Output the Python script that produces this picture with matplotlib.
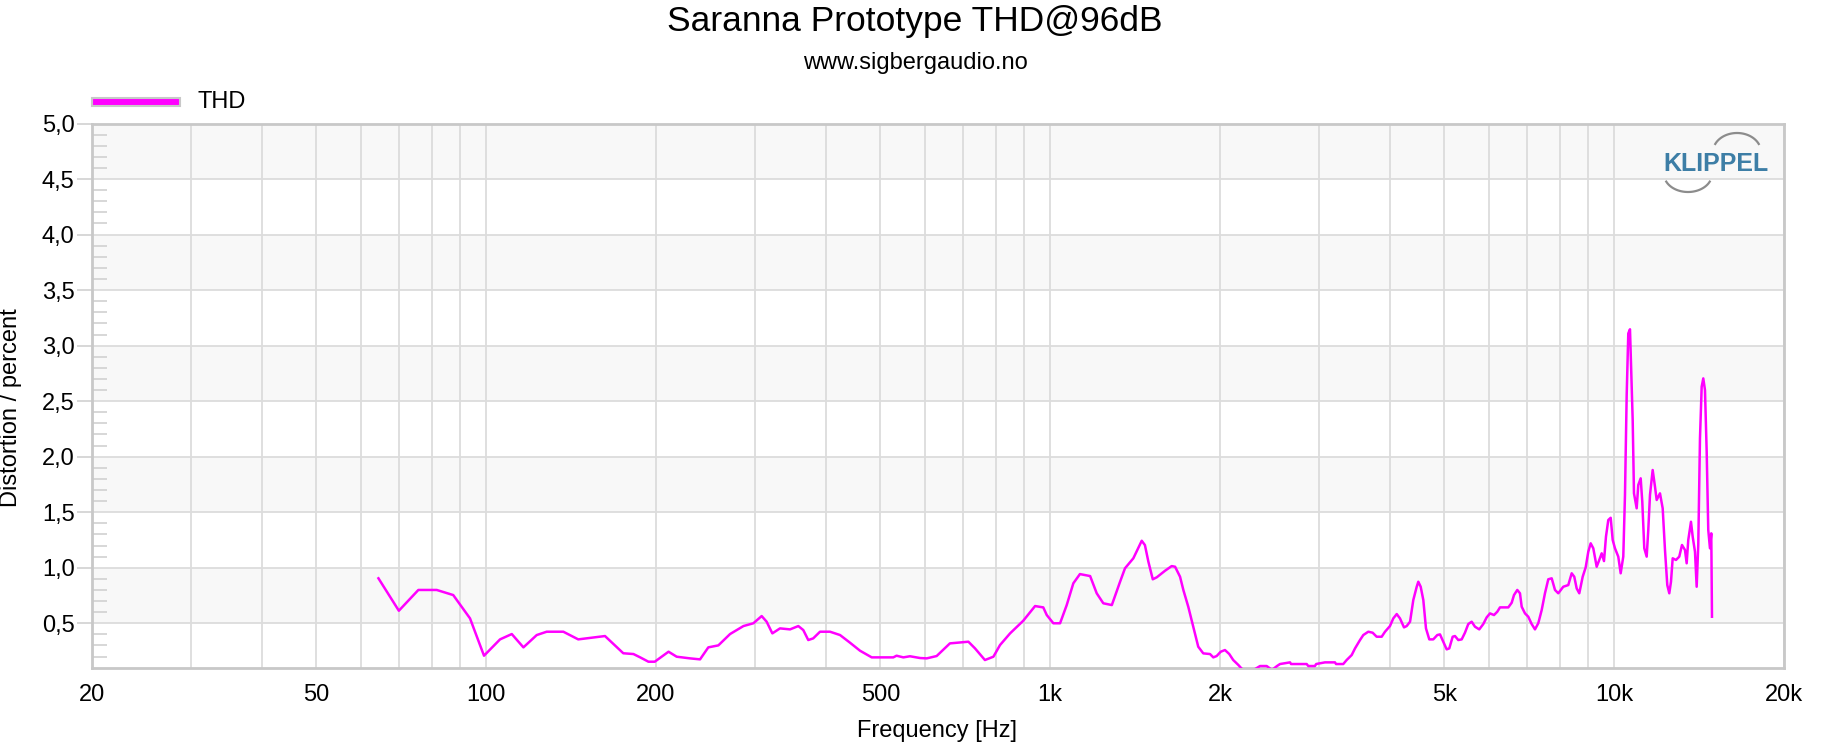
import numpy as np
import matplotlib
matplotlib.use("Agg")
import matplotlib.pyplot as plt
from matplotlib.ticker import FixedLocator, FuncFormatter, NullFormatter
from matplotlib.patches import Rectangle

plt.rcParams['font.family'] = ['Liberation Sans', 'DejaVu Sans']

title = "Saranna Prototype THD@96dB"
subtitle = "www.sigbergaudio.no"
series_name = "THD"
x_label = "Frequency [Hz]"
y_label = "Distortion / percent"

x_tick_values = [20, 50, 100, 200, 500, 1000, 2000, 5000, 10000, 20000]
x_tick_labels = ["20", "50", "100", "200", "500", "1k", "2k", "5k", "10k", "20k"]
y_tick_values = [0.5, 1.0, 1.5, 2.0, 2.5, 3.0, 3.5, 4.0, 4.5, 5.0]

freq = [64.4, 70, 75.8, 81.7, 87.4, 93.6, 99.1, 105.8, 111, 116.4, 122.9, 128, 137, 145.6,
        162.4, 175, 182.4, 187.5, 193.9, 199, 210.5, 217.6, 229.8, 239.4, 247.6, 258,
        270.6, 285.8, 297.6, 307.9, 314.2, 321.6, 331.8, 345.7, 357.6, 364.9, 372.4, 380,
        390.7, 407, 424, 441.6, 460, 482.5, 500, 527, 534, 549, 564, 588, 604, 629, 664,
        716, 735.6, 766, 793, 814.7, 848.8, 895.8, 940, 972, 986, 1013, 1041, 1069.7, 1099,
        1129, 1177, 1209, 1242, 1286, 1330, 1357, 1404, 1453, 1472, 1493, 1520, 1545, 1598,
        1642, 1665, 1699, 1722, 1757, 1793, 1830, 1868, 1920, 1946, 1973, 2006, 2041, 2077,
        2111, 2156, 2186, 2261, 2355, 2420, 2473, 2524, 2555, 2662, 2673, 2849, 2868, 2947,
        2961, 3070, 3198, 3212, 3308, 3354, 3424, 3471, 3542, 3590, 3664, 3730, 3791, 3870,
        3923, 4003, 4058, 4115, 4170, 4239, 4286, 4345, 4403, 4465, 4494, 4538, 4587, 4637,
        4700, 4777, 4856, 4910, 4991, 5046, 5100, 5171, 5220, 5291, 5365, 5437, 5511, 5588,
        5664, 5764, 5859, 5941, 6022, 6121, 6204, 6273, 6489, 6580, 6642, 6732, 6806, 6854,
        6947, 7041, 7139, 7236, 7334, 7437, 7537, 7640, 7747, 7852, 7958, 8122, 8290, 8406,
        8495, 8579, 8671, 8792, 8900, 8995, 9084, 9181, 9309, 9408, 9501, 9591, 9669, 9761,
        9857, 9938, 10031, 10167, 10267, 10377, 10449, 10522, 10591, 10665, 10695, 10783,
        10840, 10960, 11032, 11141, 11214, 11306, 11417, 11492, 11572, 11700, 11811, 11893,
        12054, 12188, 12303, 12419, 12521, 12608, 12696, 12868, 13042, 13187, 13349, 13442,
        13530, 13680, 13776, 13906, 14002, 14094, 14192, 14291, 14385, 14485, 14586, 14681,
        14783, 14862, 14905]

thd = [0.905, 0.613, 0.80, 0.80, 0.754, 0.544, 0.208, 0.355, 0.403, 0.283, 0.394, 0.424, 0.424, 0.355,
       0.385, 0.23, 0.223, 0.193, 0.154, 0.154, 0.244, 0.199, 0.184, 0.175, 0.283, 0.301,
       0.403, 0.475, 0.50, 0.565, 0.514, 0.409, 0.454, 0.445, 0.475, 0.439, 0.349, 0.364,
       0.424, 0.424, 0.394, 0.325, 0.253, 0.193, 0.193, 0.193, 0.208, 0.193, 0.203, 0.187, 0.184, 0.205, 0.319,
       0.334, 0.274, 0.169, 0.199, 0.304, 0.409, 0.523, 0.655, 0.643, 0.574, 0.50, 0.50, 0.664, 0.86,
       0.943, 0.925, 0.77, 0.68, 0.664, 0.874, 0.995, 1.085, 1.243, 1.204, 1.054, 0.896, 0.914, 0.973,
       1.015, 1.009, 0.919, 0.80, 0.649, 0.469, 0.289, 0.229, 0.223, 0.193, 0.205, 0.244, 0.259, 0.223,
       0.169, 0.124, 0.09, 0.06, 0.115, 0.115, 0.08, 0.115, 0.133, 0.148, 0.133, 0.133, 0.115, 0.115,
       0.133, 0.148, 0.148, 0.133, 0.133, 0.169, 0.214, 0.274, 0.349, 0.394, 0.424, 0.415, 0.379, 0.379,
       0.424, 0.475, 0.544, 0.583, 0.544, 0.463, 0.475, 0.514, 0.709, 0.829, 0.874, 0.829, 0.709, 0.454,
       0.355, 0.355, 0.394, 0.40, 0.319, 0.265, 0.274, 0.379, 0.385, 0.349, 0.355, 0.415, 0.493, 0.514,
       0.469, 0.445, 0.493, 0.553, 0.589, 0.574, 0.604, 0.643, 0.643, 0.685, 0.754, 0.80, 0.77, 0.649,
       0.589, 0.559, 0.493, 0.445, 0.50, 0.619, 0.77, 0.896, 0.905, 0.80, 0.77, 0.829, 0.844, 0.95,
       0.919, 0.814, 0.77, 0.919, 1.003, 1.144, 1.22, 1.175, 1.009, 1.07, 1.13, 1.06, 1.28, 1.43,
       1.45, 1.25, 1.175, 1.1, 0.95, 1.1, 1.655, 2.555, 3.11, 3.147, 2.945, 2.33,
       1.67, 1.535, 1.745, 1.805, 1.594, 1.175, 1.1, 1.34, 1.655, 1.88, 1.73, 1.61,
       1.67, 1.535, 1.16, 0.844, 0.77, 0.874, 1.085, 1.07, 1.1, 1.205, 1.16, 1.04,
       1.25, 1.414, 1.28, 1.144, 0.829, 1.205, 2.165, 2.63, 2.705, 2.6, 2.045, 1.34,
       1.175, 1.31, 0.559]

W, H = 1830, 746
L, R, T, B = 92, 1784, 123.5, 667.7
fig = plt.figure(figsize=(W / 100, H / 100), dpi=100)
ax = fig.add_axes([L / W, 1 - B / H, (R - L) / W, (B - T) / H])
ax.set_xscale('log')
ax.set_xlim(20, 20000)
ax.set_ylim(0.1, 5.0)

# alternating bands
for lo in y_tick_values[::2]:
    ax.axhspan(lo, lo + 0.5, color='#f8f8f8', lw=0, zorder=0)

# x grid at every 1..9 multiple
grid_x = [m * 10 ** e for e in range(1, 5) for m in range(1, 10) if 20 <= m * 10 ** e <= 20000]
ax.xaxis.set_major_locator(FixedLocator(grid_x))
lab_map = dict(zip(x_tick_values, x_tick_labels))
ax.xaxis.set_major_formatter(FuncFormatter(lambda v, p: lab_map.get(int(round(v)), "")))
ax.xaxis.set_minor_locator(FixedLocator([100, 1000, 10000]))
ax.xaxis.set_minor_formatter(NullFormatter())

ax.yaxis.set_major_locator(FixedLocator(y_tick_values))
ax.yaxis.set_major_formatter(FuncFormatter(lambda v, p: f"{v:.1f}".replace('.', ',')))
minor_y = [round(0.1 * k, 1) for k in range(2, 50) if k % 5 != 0]
ax.yaxis.set_minor_locator(FixedLocator(minor_y))

ax.grid(True, which='major', color='#dcdcdc', lw=1.3)
ax.set_axisbelow(True)
for s in ax.spines.values():
    s.set_color('#c8c8c8')
    s.set_linewidth(2)

ax.tick_params(axis='x', which='major', length=0, pad=11.5, labelsize=17)
ax.tick_params(axis='x', which='minor', length=7, width=1.3, color='#c8c8c8')
ax.tick_params(axis='y', which='major', length=10.5, width=1.3, color='#d4d4d4', pad=2, labelsize=17)
ax.tick_params(axis='y', which='minor', direction='in', length=11, width=1.3, color='#d4d4d4')

ax.plot(freq, thd, color='#ff00ff', lw=1.8, zorder=3)

fig.text(0.5, 1 - 21 / H, title, fontsize=25.5, ha='center', va='center')
fig.text(0.5, 1 - 63 / H, subtitle, fontsize=17, ha='center', va='center')
fig.text(937 / W, 1 - 731 / H, x_label, fontsize=17, ha='center', va='center')
fig.text(11 / W, 1 - 408 / H, y_label, fontsize=17, ha='center', va='center', rotation=90)

ov = fig.add_axes([0, 0, 1, 1])
ov.set_xlim(0, W)
ov.set_ylim(H, 0)
ov.axis('off')
ov.patch.set_alpha(0)
ov.add_patch(Rectangle((92, 97.5), 88, 8.5, facecolor='#ff00ff', edgecolor='#c8c8c8', lw=1.5))
ov.text(198, 101.5, series_name, fontsize=17, ha='left', va='center')

# KLIPPEL logo
ov.text(1716, 164, "KLIPPEL", color='#3d7ea6', fontsize=18, fontweight='bold', ha='center', va='center')
th = np.radians(np.linspace(25, 155, 40))
ov.plot(1737 + 24 * np.cos(th), 152 - 19 * np.sin(th), color='#8c8c8c', lw=1.6)
ov.plot(1688 + 24 * np.cos(th), 174 + 18 * np.sin(th), color='#8c8c8c', lw=1.6)

fig.savefig("out.png", dpi=100)
